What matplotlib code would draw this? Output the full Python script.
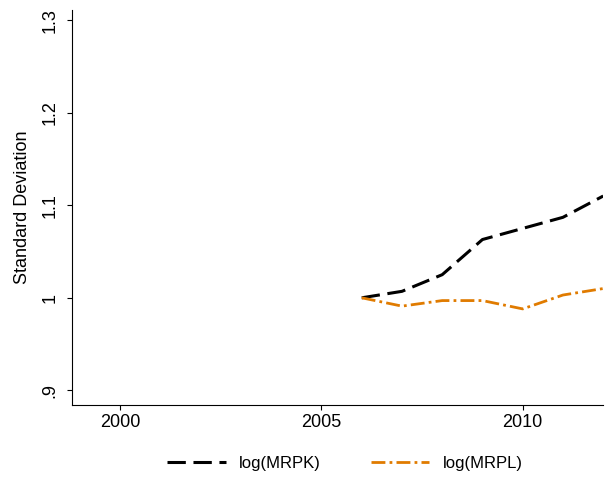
import numpy as np
import matplotlib.pyplot as plt

years = [2006, 2007, 2008, 2009, 2010, 2011, 2012]
mrpk = [1.000, 1.007, 1.025, 1.063, 1.075, 1.087, 1.110]
mrpl = [1.000, 0.991, 0.997, 0.997, 0.988, 1.003, 1.010]

yticks = [0.9, 1.0, 1.1, 1.2, 1.3]
ylabels = ['.9', '1', '1.1', '1.2', '1.3']
xticks = [2000, 2005, 2010]

plt.rcParams['font.family'] = ['Liberation Sans', 'DejaVu Sans']
fig = plt.figure(figsize=(6.05, 4.8), dpi=100)
ax = fig.add_axes([0.119, 0.156, 0.878, 0.823])

ax.plot(years, mrpk, color='black', lw=2.2, dashes=(6, 2.5), label='log(MRPK)')
ax.plot(years, mrpl, color='#e07b00', lw=2.0, dashes=(5, 1.5, 1, 1.5), label='log(MRPL)')

ax.set_xlim(1998.8, 2012)
ax.set_ylim(0.884, 1.311)
ax.set_xticks(xticks)
ax.set_yticks(yticks)
ax.set_yticklabels(ylabels, rotation=90, va='center')
ax.tick_params(axis='y', labelsize=13, pad=6)
ax.tick_params(axis='x', labelsize=13, pad=3)
ax.set_ylabel('Standard Deviation', fontsize=13, labelpad=8)
ax.spines['top'].set_visible(False)
ax.spines['right'].set_visible(False)

fig.legend(loc='center', bbox_to_anchor=(0.57, 0.035), ncol=2, frameon=False,
           fontsize=12, handlelength=3.5, columnspacing=3)

fig.savefig('out.png', dpi=100)
